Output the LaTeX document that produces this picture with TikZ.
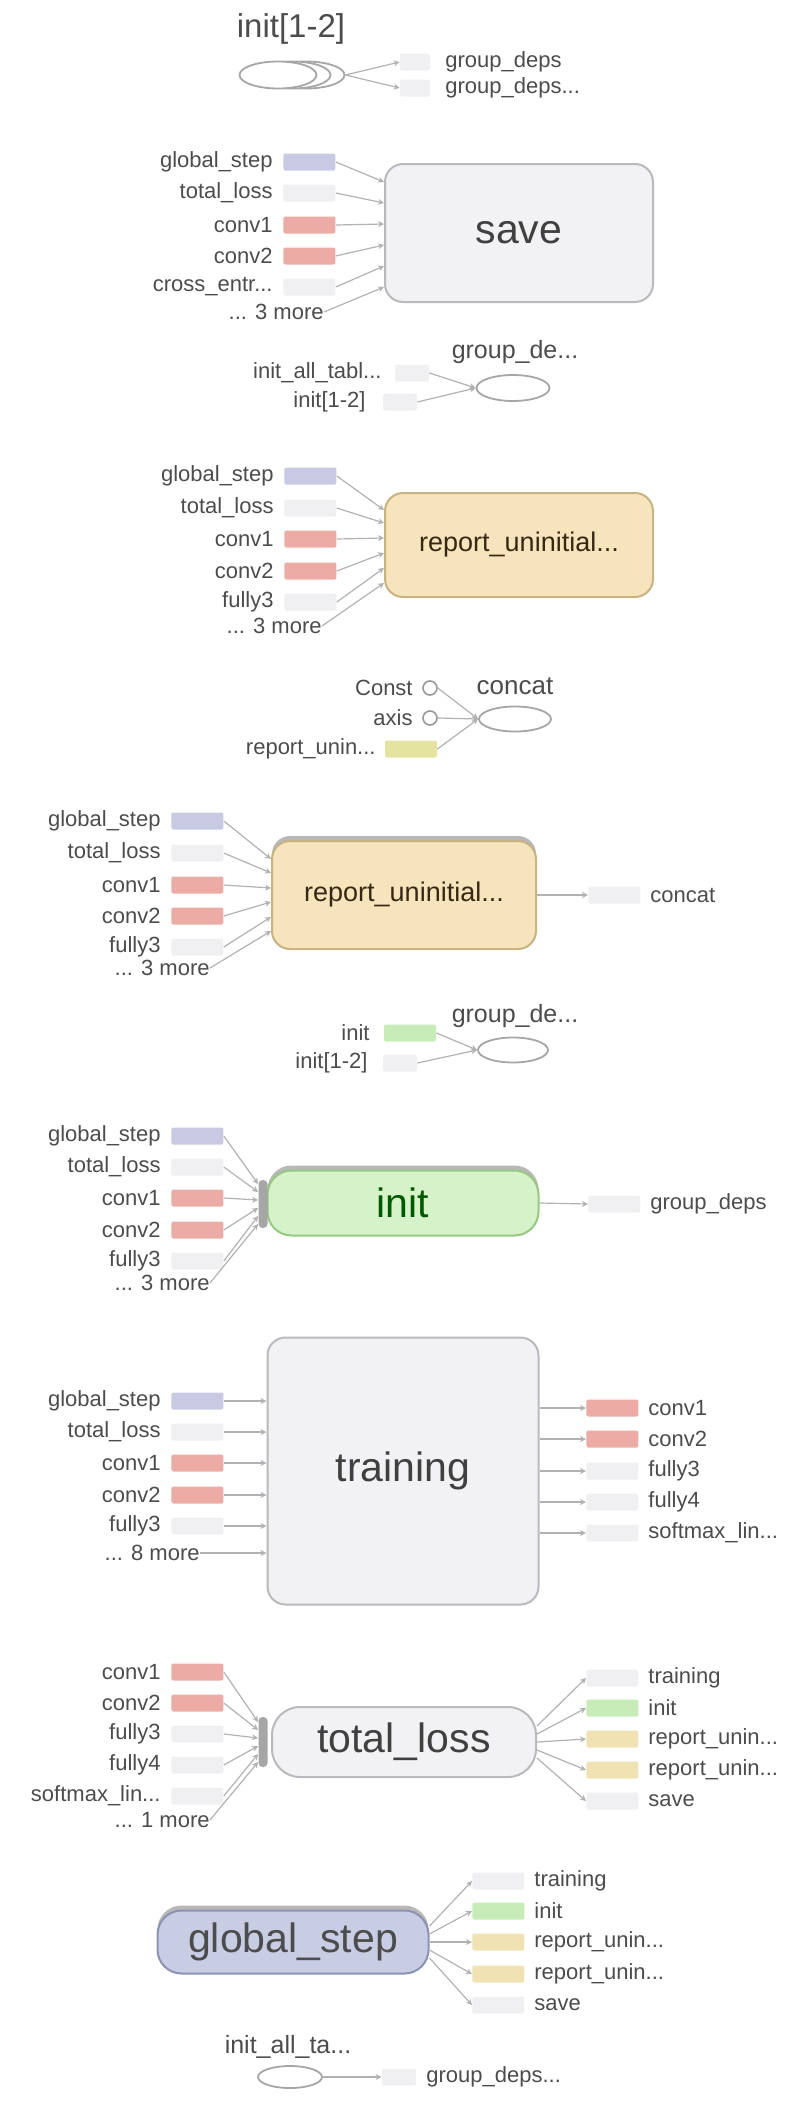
\documentclass[tikz,border=0pt]{standalone}
\usepackage{fontspec}
\setmainfont{Liberation Sans}
\usetikzlibrary{arrows.meta,shapes.geometric,shadows}
\definecolor{lavtag}{RGB}{200,202,228}
\definecolor{salmontag}{RGB}{236,172,165}
\definecolor{fainttag}{RGB}{240,240,243}
\definecolor{greentag}{RGB}{200,236,184}
\definecolor{tantag}{RGB}{240,226,178}
\definecolor{yellowtag}{RGB}{228,228,160}
\definecolor{opfill}{RGB}{242,242,244}
\definecolor{opdraw}{RGB}{185,185,190}
\definecolor{repfill}{RGB}{245,228,188}
\definecolor{repdraw}{RGB}{200,180,130}
\definecolor{initfill}{RGB}{214,242,200}
\definecolor{initdraw}{RGB}{150,200,130}
\definecolor{gsfill}{RGB}{200,205,228}
\definecolor{gsdraw}{RGB}{140,146,178}
\tikzset{
	lbl/.style={font=\fontsize{11}{13}\selectfont, text=black!70, inner sep=0pt},
	tagbox/.style={draw=none, minimum width=26pt, minimum height=8.5pt, inner sep=0pt, rounded corners=1pt},
	opbox/.style={draw=opdraw, fill=opfill, line width=1pt, rounded corners=9pt, inner sep=0pt, font=\fontsize{20.5}{24}\selectfont, text=black!75},
	oval/.style={ellipse, draw=black!35, fill=white, line width=0.9pt, inner sep=0pt},
	bracket/.style={fill=black!35, rounded corners=2pt, minimum width=4.5pt, inner sep=0pt},
	edge/.style={draw=black!30, line width=0.6pt, -{Stealth[length=3pt,width=3pt]}},
	topstrip/.style={general shadow={shadow yshift=2.5pt, fill=black!28, draw=none}},
}
\def\intag(#1)(#2,#3)[#4]#5{\node[lbl, anchor=east] (#1-l) at (#2,#3) {#5}; \node[tagbox, fill=#4, anchor=west] (#1) at (#2+10,#3) {};}
\def\outtag(#1)(#2,#3)[#4]#5{\node[tagbox, fill=#4, anchor=west] (#1) at (#2,#3) {}; \node[lbl, anchor=west] (#1-l) at (#2+62,#3) {#5};}

\begin{document}
\begin{tikzpicture}[x=0.5pt,y=-0.5pt]
	%%%%% START %%%%%
	\useasboundingbox (0,0) rectangle (794,2104);
	
	% init[1-2] -> group_deps
	\node[lbl, font=\fontsize{16.5}{19}\selectfont] (top-l) at (291,29) {init[1-2]};
	\node[oval, minimum width=38.5pt, minimum height=13.5pt] (top-e3) at (306,75) {};
	\node[oval, minimum width=38.5pt, minimum height=13.5pt] (top-e2) at (292,75) {};
	\node[oval, minimum width=38.5pt, minimum height=13.5pt] (top) at (278,75) {};
	\node[tagbox, fill=fainttag, minimum width=15pt] (top-g1) at (415,62) {};
	\node[tagbox, fill=fainttag, minimum width=15pt] (top-g2) at (415,88) {};
	\node[lbl, anchor=west] (top-g1-l) at (445,62) {group\_deps};
	\node[lbl, anchor=west] (top-g2-l) at (445,88) {group\_deps...};
	\draw[edge] (top-e3.east) -- (top-g1.west);
	\draw[edge] (top-e3.east) -- (top-g2.west);
	
	% save
	\node[opbox, minimum width=134pt, minimum height=69pt] (save) at (519,233) {save};
	\intag(s-gs)(273,162)[lavtag]{global\_step}
	\intag(s-tl)(273,193)[fainttag]{total\_loss}
	\intag(s-c1)(273,225)[salmontag]{conv1}
	\intag(s-c2)(273,256)[salmontag]{conv2}
	\intag(s-ce)(273,287)[fainttag]{cross\_entr...}
	\node[lbl, anchor=east] (s-more) at (324,312) {... 3 more};
	\draw[edge] (s-gs.east) -- ([yshift=25.5pt]save.west);
	\draw[edge] (s-tl.east) -- ([yshift=15pt]save.west);
	\draw[edge] (s-c1.east) -- ([yshift=4.5pt]save.west);
	\draw[edge] (s-c2.east) -- ([yshift=-6pt]save.west);
	\draw[edge] (s-ce.east) -- ([yshift=-16.5pt]save.west);
	\draw[edge] (s-more.east) -- ([yshift=-27pt]save.west);
	
	% group_deps of init_all_tables
	\node[lbl, font=\fontsize{12.5}{15}\selectfont] (g1-l) at (515,352) {group\_de...};
	\node[oval, minimum width=36.5pt, minimum height=13pt] (g1) at (513,388) {};
	\node[lbl, anchor=east] (g1-ia-l) at (382,373) {init\_all\_tabl...};
	\node[tagbox, fill=fainttag, minimum width=17pt] (g1-ia) at (412,373) {};
	\node[lbl, anchor=east] (g1-in-l) at (366,402) {init[1-2]};
	\node[tagbox, fill=fainttag, minimum width=17pt] (g1-in) at (400,402) {};
	\draw[edge] (g1-ia.east) -- (g1.west);
	\draw[edge] (g1-in.east) -- (g1.west);
	
	% report_uninitialized (1)
	\node[opbox, draw=repdraw, fill=repfill, text=black!70!brown, font=\fontsize{13.5}{16}\selectfont, minimum width=134pt, minimum height=52pt] (rep1) at (519,545) {report\_uninitial...};
	\intag(r1-gs)(274,476)[lavtag]{global\_step}
	\intag(r1-tl)(274,508)[fainttag]{total\_loss}
	\intag(r1-c1)(274,539)[salmontag]{conv1}
	\intag(r1-c2)(274,571)[salmontag]{conv2}
	\intag(r1-f3)(274,602)[fainttag]{fully3}
	\node[lbl, anchor=east] (r1-more) at (322,626) {... 3 more};
	\draw[edge] (r1-gs.east) -- ([yshift=17.5pt]rep1.west);
	\draw[edge] (r1-tl.east) -- ([yshift=11pt]rep1.west);
	\draw[edge] (r1-c1.east) -- ([yshift=3.5pt]rep1.west);
	\draw[edge] (r1-c2.east) -- ([yshift=-4pt]rep1.west);
	\draw[edge] (r1-f3.east) -- ([yshift=-11.5pt]rep1.west);
	\draw[edge] (r1-more.east) -- ([yshift=-19pt]rep1.west);
	
	% concat
	\node[lbl, font=\fontsize{13}{15}\selectfont] (cc-l) at (515,686) {concat};
	\node[oval, minimum width=36pt, minimum height=12.5pt] (cc) at (515,719) {};
	\node[lbl, anchor=east] (cc-k-l) at (413,688) {Const};
	\node[circle, draw=black!40, line width=0.8pt, minimum size=7pt, inner sep=0pt] (cc-k) at (430,688) {};
	\node[lbl, anchor=east] (cc-a-l) at (413,718) {axis};
	\node[circle, draw=black!40, line width=0.8pt, minimum size=7pt, inner sep=0pt] (cc-a) at (430,718) {};
	\node[lbl, anchor=east] (cc-r-l) at (376,749) {report\_unin...};
	\node[tagbox, fill=yellowtag] (cc-r) at (411,749) {};
	\draw[edge] (cc-k.east) -- (cc.west);
	\draw[edge] (cc-a.east) -- (cc.west);
	\draw[edge] (cc-r.east) -- (cc.west);
	
	% report_uninitialized (2)
	\node[opbox, topstrip, draw=repdraw, fill=repfill, text=black!70!brown, font=\fontsize{13.5}{16}\selectfont, minimum width=132pt, minimum height=54pt] (rep2) at (404,895) {report\_uninitial...};
	\intag(r2-gs)(161,821)[lavtag]{global\_step}
	\intag(r2-tl)(161,853)[fainttag]{total\_loss}
	\intag(r2-c1)(161,885)[salmontag]{conv1}
	\intag(r2-c2)(161,916)[salmontag]{conv2}
	\intag(r2-f3)(161,947)[fainttag]{fully3}
	\node[lbl, anchor=east] (r2-more) at (210,968) {... 3 more};
	\draw[edge] (r2-gs.east) -- ([yshift=18pt]rep2.west);
	\draw[edge] (r2-tl.east) -- ([yshift=11pt]rep2.west);
	\draw[edge] (r2-c1.east) -- ([yshift=3.5pt]rep2.west);
	\draw[edge] (r2-c2.east) -- ([yshift=-3.5pt]rep2.west);
	\draw[edge] (r2-f3.east) -- ([yshift=-11pt]rep2.west);
	\draw[edge] (r2-more.east) -- ([yshift=-18pt]rep2.west);
	\outtag(r2-cc)(588,895)[fainttag]{concat}
	\draw[edge] (rep2.east) -- (r2-cc.west);
	
	% group_deps of init
	\node[lbl, font=\fontsize{12.5}{15}\selectfont] (g2-l) at (515,1016) {group\_de...};
	\node[oval, minimum width=35pt, minimum height=12.5pt] (g2) at (513,1050) {};
	\node[lbl, anchor=east] (g2-i-l) at (370,1033) {init};
	\node[tagbox, fill=greentag] (g2-i) at (410,1033) {};
	\node[lbl, anchor=east] (g2-in-l) at (368,1063) {init[1-2]};
	\node[tagbox, fill=fainttag, minimum width=17pt] (g2-in) at (400,1063) {};
	\draw[edge] (g2-i.east) -- (g2.west);
	\draw[edge] (g2-in.east) -- (g2.west);
	
	% init
	\node[opbox, topstrip, draw=initdraw, fill=initfill, text=green!35!black, rounded corners=12pt, minimum width=135.5pt, minimum height=32.5pt] (init) at (403,1203) {init};
	\node[bracket, minimum height=24pt] (i-br) at (263,1204) {};
	\intag(i-gs)(161,1136)[lavtag]{global\_step}
	\intag(i-tl)(161,1167)[fainttag]{total\_loss}
	\intag(i-c1)(161,1198)[salmontag]{conv1}
	\intag(i-c2)(161,1230)[salmontag]{conv2}
	\intag(i-f3)(161,1261)[fainttag]{fully3}
	\node[lbl, anchor=east] (i-more) at (210,1283) {... 3 more};
	\draw[edge] (i-gs.east) -- ([yshift=10pt]i-br.west);
	\draw[edge] (i-tl.east) -- ([yshift=6pt]i-br.west);
	\draw[edge] (i-c1.east) -- ([yshift=2pt]i-br.west);
	\draw[edge] (i-c2.east) -- ([yshift=-2pt]i-br.west);
	\draw[edge] (i-f3.east) -- ([yshift=-6pt]i-br.west);
	\draw[edge] (i-more.east) -- ([yshift=-10pt]i-br.west);
	\outtag(i-gd)(588,1204)[fainttag]{group\_deps}
	\draw[edge] (init.east) -- (i-gd.west);
	
	% training
	\node[opbox, minimum width=135.5pt, minimum height=133.5pt] (train) at (403,1471) {training};
	\intag(t-gs)(161,1401)[lavtag]{global\_step}
	\intag(t-tl)(161,1432)[fainttag]{total\_loss}
	\intag(t-c1)(161,1463)[salmontag]{conv1}
	\intag(t-c2)(161,1495)[salmontag]{conv2}
	\intag(t-f3)(161,1526)[fainttag]{fully3}
	\node[lbl, anchor=east] (t-more) at (200,1553) {... 8 more};
	\draw[edge] (t-gs.east) -- (t-gs.east -| train.west);
	\draw[edge] (t-tl.east) -- (t-tl.east -| train.west);
	\draw[edge] (t-c1.east) -- (t-c1.east -| train.west);
	\draw[edge] (t-c2.east) -- (t-c2.east -| train.west);
	\draw[edge] (t-f3.east) -- (t-f3.east -| train.west);
	\draw[edge] (t-more.east) -- (t-more.east -| train.west);
	\outtag(t-o1)(586,1408)[salmontag]{conv1}
	\outtag(t-o2)(586,1439)[salmontag]{conv2}
	\outtag(t-o3)(586,1471)[fainttag]{fully3}
	\outtag(t-o4)(586,1502)[fainttag]{fully4}
	\outtag(t-o5)(586,1533)[fainttag]{softmax\_lin...}
	\draw[edge] (train.east |- t-o1.west) -- (t-o1.west);
	\draw[edge] (train.east |- t-o2.west) -- (t-o2.west);
	\draw[edge] (train.east |- t-o3.west) -- (t-o3.west);
	\draw[edge] (train.east |- t-o4.west) -- (t-o4.west);
	\draw[edge] (train.east |- t-o5.west) -- (t-o5.west);
	
	% total_loss
	\node[opbox, rounded corners=14pt, minimum width=132pt, minimum height=35pt] (tloss) at (404,1742) {total\_loss};
	\node[bracket, minimum height=25pt] (tl-br) at (263,1742) {};
	\intag(l-c1)(161,1672)[salmontag]{conv1}
	\intag(l-c2)(161,1703)[salmontag]{conv2}
	\intag(l-f3)(161,1734)[fainttag]{fully3}
	\intag(l-f4)(161,1765)[fainttag]{fully4}
	\intag(l-sm)(161,1796)[fainttag]{softmax\_lin...}
	\node[lbl, anchor=east] (l-more) at (210,1820) {... 1 more};
	\draw[edge] (l-c1.east) -- ([yshift=10pt]tl-br.west);
	\draw[edge] (l-c2.east) -- ([yshift=6pt]tl-br.west);
	\draw[edge] (l-f3.east) -- ([yshift=2pt]tl-br.west);
	\draw[edge] (l-f4.east) -- ([yshift=-2pt]tl-br.west);
	\draw[edge] (l-sm.east) -- ([yshift=-6pt]tl-br.west);
	\draw[edge] (l-more.east) -- ([yshift=-10pt]tl-br.west);
	\outtag(l-o1)(586,1678)[fainttag]{training}
	\outtag(l-o2)(586,1708)[greentag]{init}
	\outtag(l-o3)(586,1739)[tantag]{report\_unin...}
	\outtag(l-o4)(586,1770)[tantag]{report\_unin...}
	\outtag(l-o5)(586,1801)[fainttag]{save}
	\draw[edge] ([yshift=8pt]tloss.east) -- (l-o1.west);
	\draw[edge] ([yshift=4pt]tloss.east) -- (l-o2.west);
	\draw[edge] (tloss.east) -- (l-o3.west);
	\draw[edge] ([yshift=-4pt]tloss.east) -- (l-o4.west);
	\draw[edge] ([yshift=-8pt]tloss.east) -- (l-o5.west);
	
	% global_step
	\node[opbox, topstrip, draw=gsdraw, fill=gsfill, text=black!70, rounded corners=12pt, minimum width=135.5pt, minimum height=31.5pt] (gstep) at (293,1942) {global\_step};
	\outtag(g-o1)(472,1881)[fainttag]{training}
	\outtag(g-o2)(472,1911)[greentag]{init}
	\outtag(g-o3)(472,1942)[tantag]{report\_unin...}
	\outtag(g-o4)(472,1974)[tantag]{report\_unin...}
	\outtag(g-o5)(472,2005)[fainttag]{save}
	\draw[edge] ([yshift=8pt]gstep.east) -- (g-o1.west);
	\draw[edge] ([yshift=4pt]gstep.east) -- (g-o2.west);
	\draw[edge] (gstep.east) -- (g-o3.west);
	\draw[edge] ([yshift=-4pt]gstep.east) -- (g-o4.west);
	\draw[edge] ([yshift=-8pt]gstep.east) -- (g-o5.west);
	
	% init_all_tables -> group_deps
	\node[lbl, font=\fontsize{12.5}{15}\selectfont] (ia-l) at (288,2047) {init\_all\_ta...};
	\node[oval, minimum width=32pt, minimum height=11pt] (ia) at (290,2077) {};
	\node[tagbox, fill=fainttag, minimum width=17pt] (ia-gd) at (399,2077) {};
	\node[lbl, anchor=west] (ia-gd-l) at (426,2077) {group\_deps...};
	\draw[edge] (ia.east) -- (ia-gd.west);
	
	%%%%% END %%%%%
\end{tikzpicture}
\end{document}
